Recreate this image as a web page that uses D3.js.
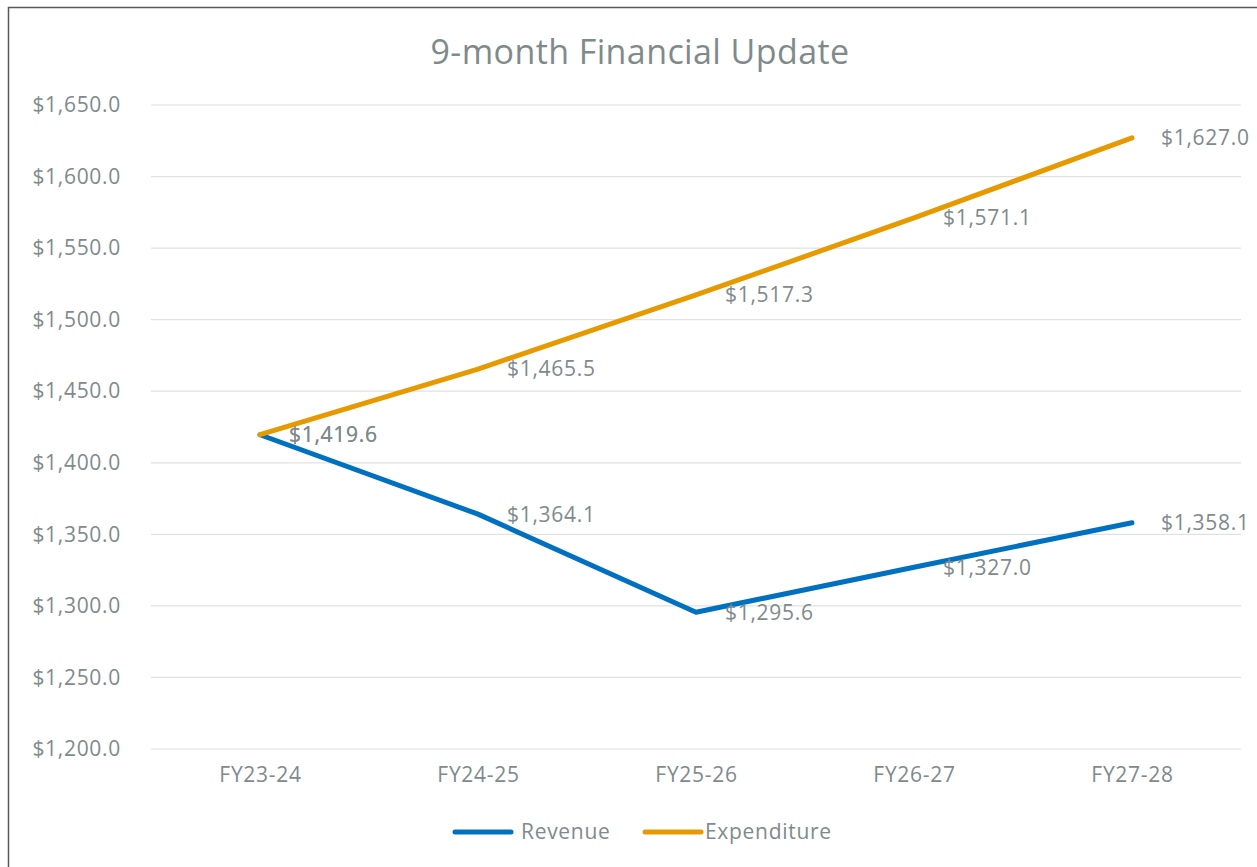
<!DOCTYPE html>
<html>
<head>
<meta charset="utf-8">
<script src="https://cdn.jsdelivr.net/npm/d3@7"></script>
<style>
  body { margin: 0; background: #fff; }
  text { font-family: "Open Sans", "Noto Sans", sans-serif; fill: #7f8a8c; }
</style>
</head>
<body>
<div id="chart"></div>
<script>
const years = ['FY23-24', 'FY24-25', 'FY25-26', 'FY26-27', 'FY27-28'];
const revenue = [1419.6, 1364.1, 1295.6, 1327.0, 1358.1];
const expenditure = [1419.6, 1465.5, 1517.3, 1571.1, 1627.0];
const yTicks = [1200, 1250, 1300, 1350, 1400, 1450, 1500, 1550, 1600, 1650];

let width = 1257,
    height = 867,
    margin = {left: 151, top: 105, right: 16, bottom: 118};

let svg = d3.select('#chart').append('svg')
    .attr('width', width)
    .attr('height', height);

// outer chart border
svg.append('rect')
    .attr('x', 8.5).attr('y', 7.5)
    .attr('width', width + 10).attr('height', height + 10)
    .attr('fill', 'none')
    .attr('stroke', '#595959')
    .attr('stroke-width', 1.5);

svg.append('text')
    .attr('x', 640).attr('y', 64)
    .attr('text-anchor', 'middle')
    .style('font-size', '34px')
    .style('letter-spacing', '0.4px')
    .text('9-month Financial Update');

let xScale = d3.scalePoint()
    .domain(years)
    .range([margin.left, width - margin.right])
    .padding(0.5);

let yScale = d3.scaleLinear()
    .domain([1200, 1650])
    .range([height - margin.bottom, margin.top]);

// gridlines
svg.append('g')
    .selectAll('line')
    .data(yTicks)
    .join('line')
    .attr('x1', margin.left).attr('x2', width - margin.right)
    .attr('y1', d => yScale(d)).attr('y2', d => yScale(d))
    .attr('stroke', '#e1e1e1')
    .attr('stroke-width', 1.2);

let fmt = d => '$' + d3.format(',.1f')(d);

function styleText(sel) {
    sel.style('font-size', '21px').style('letter-spacing', '0.7px');
}

let yAxis = svg.append('g')
    .attr('transform', `translate(${margin.left}, 0)`)
    .call(d3.axisLeft(yScale).tickValues(yTicks).tickFormat(fmt).tickSize(0).tickPadding(30));
yAxis.select('.domain').remove();
yAxis.selectAll('text').attr('fill', null).call(styleText);

let xAxis = svg.append('g')
    .attr('transform', `translate(0, ${height - margin.bottom})`)
    .call(d3.axisBottom(xScale).tickSize(0).tickPadding(18));
xAxis.select('.domain').remove();
xAxis.selectAll('text').attr('fill', null).call(styleText);

let series = [
    {name: 'Revenue', values: revenue, color: '#0070c0'},
    {name: 'Expenditure', values: expenditure, color: '#e69a00'}
];

let line = d3.line()
    .x((d, i) => xScale(years[i]))
    .y(d => yScale(d));

svg.append('g')
    .selectAll('path')
    .data(series)
    .join('path')
    .attr('d', d => line(d.values))
    .attr('fill', 'none')
    .attr('stroke', d => d.color)
    .attr('stroke-width', 5)
    .attr('stroke-linecap', 'round')
    .attr('stroke-linejoin', 'round');

series.forEach(s => {
    svg.append('g')
        .selectAll('text')
        .data(s.values)
        .join('text')
        .attr('x', (d, i) => xScale(years[i]) + 29)
        .attr('y', d => yScale(d))
        .attr('dy', '0.35em')
        .call(styleText)
        .text(fmt);
});

// legend
let legend = svg.append('g');
let legendX = [455, 645];
series.forEach((s, i) => {
    legend.append('line')
        .attr('x1', legendX[i]).attr('x2', legendX[i] + 56)
        .attr('y1', 832).attr('y2', 832)
        .attr('stroke', s.color)
        .attr('stroke-width', 5)
        .attr('stroke-linecap', 'round');
    legend.append('text')
        .attr('x', legendX[i] + (i === 0 ? 66 : 60))
        .attr('y', 832)
        .attr('dy', '0.35em')
        .call(styleText)
        .text(s.name);
});
</script>
</body>
</html>
